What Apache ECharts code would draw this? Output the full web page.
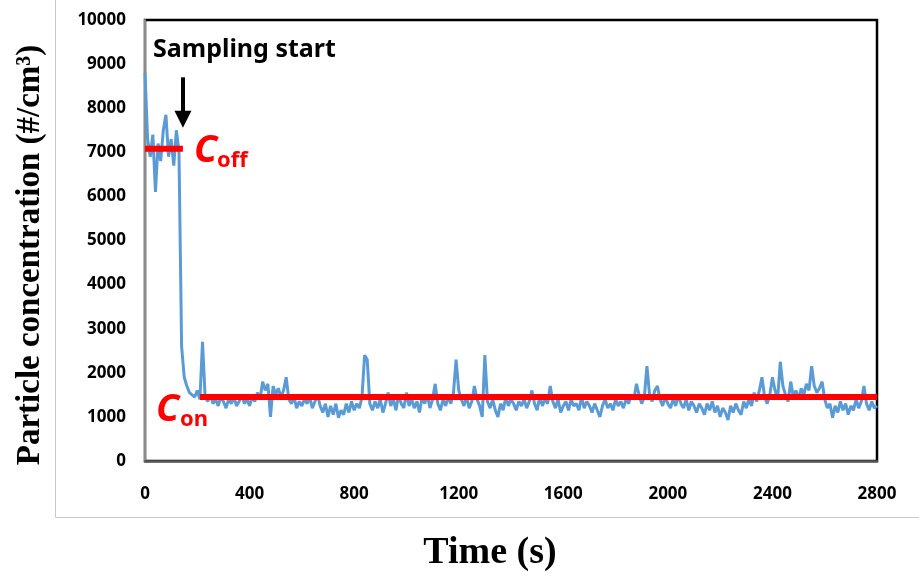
<!DOCTYPE html>
<html>
<head>
<meta charset="utf-8">
<title>Particle concentration</title>
<script src="https://cdn.jsdelivr.net/npm/echarts@6/dist/echarts.min.js"></script>
<style>
  html, body { margin: 0; padding: 0; background: #fff; }
  #chart { width: 919px; height: 578px; }
</style>
</head>
<body>
<div id="chart"></div>
<script>
// sampling step of the trace (s)
const timeStep = 10
// particle concentration read every 10 s, from 0 to 2800 s
const concentration = [
  8800, 7300, 6900, 7400, 6100, 7200, 6800, 7500, 7850, 6900, // 0
  7300, 6700, 7500, 7000, 2600, 1900, 1700, 1550, 1500, 1450, // 100
  1600, 1400, 2700, 1450, 1350, 1500, 1300, 1400, 1250, 1450, // 200
  1350, 1200, 1400, 1300, 1450, 1250, 1350, 1500, 1300, 1400, // 300
  1250, 1450, 1350, 1550, 1400, 1800, 1600, 1750, 1000, 1700, // 400
  1500, 1650, 1450, 1600, 1900, 1400, 1300, 1450, 1200, 1350, // 500
  1250, 1400, 1300, 1450, 1200, 1350, 1500, 1250, 1100, 1300, // 600
  1000, 1250, 1050, 1300, 980, 1150, 1050, 1300, 1100, 1350, // 700
  1150, 1300, 1200, 1450, 2400, 2300, 1300, 1150, 1350, 1200, // 800
  1400, 1100, 1300, 1550, 1250, 1400, 1150, 1500, 1300, 1200, // 900
  1550, 1250, 1400, 1200, 1350, 1100, 1450, 1300, 1500, 1200, // 1000
  1400, 1750, 1300, 1150, 1400, 1250, 1450, 1300, 1550, 2300, // 1100
  1600, 1400, 1250, 1450, 1200, 1350, 1700, 1400, 1250, 1000, // 1200
  2400, 1350, 1200, 1400, 1150, 1000, 1300, 1150, 1450, 1250, // 1300
  1400, 1300, 1150, 1350, 1250, 1400, 1200, 1350, 1600, 1300, // 1400
  1150, 1450, 1250, 1400, 1300, 1700, 1350, 1200, 1400, 1100, // 1500
  1250, 1350, 1150, 1400, 1250, 1300, 1150, 1450, 1200, 1350, // 1600
  1250, 1100, 1300, 1150, 1000, 1250, 1400, 1200, 1300, 1150, // 1700
  1400, 1250, 1350, 1200, 1400, 1300, 1500, 1400, 1750, 1500, // 1800
  1300, 1450, 2150, 1500, 1350, 1600, 1700, 1400, 1250, 1450, // 1900
  1300, 1200, 1400, 1250, 1500, 1300, 1200, 1400, 1150, 1350, // 2000
  1250, 1100, 1300, 1200, 1050, 1300, 1150, 1350, 1100, 1250, // 2100
  1000, 1200, 1100, 930, 1250, 1100, 1300, 1150, 1050, 1350, // 2200
  1200, 1400, 1250, 1550, 1350, 1600, 1900, 1450, 1300, 1500, // 2300
  1900, 1600, 1400, 2250, 1700, 1500, 1350, 1800, 1450, 1600, // 2400
  1400, 1650, 1500, 1750, 1600, 2150, 1700, 1550, 1650, 1800, // 2500
  1400, 1200, 1300, 980, 1250, 1100, 1350, 1150, 1300, 1050, // 2600
  1250, 1150, 1400, 1200, 1350, 1700, 1300, 1150, 1350, 1200, // 2700
  1250 // 2800
]

// mean levels before (off) and after (on) sampling start
const coffLevel = 7080
const coffRange = [0, 145]
const conLevel = 1450
const conRange = [210, 2800]
// arrow marking sampling start: time, from value, to value
const arrowTime = 145
const arrowFrom = 8700
const arrowTo = 7750

const xTicks = { min: 0, max: 2800, interval: 400 }
const yTicks = { min: 0, max: 10000, interval: 1000 }

const chart = echarts.init(document.getElementById('chart'))

const trace = concentration.map((v, i) => [i * timeStep, v])

const tickFont = {
  fontFamily: 'Noto Sans',
  fontWeight: 'bold',
  fontSize: 17,
  color: '#000',
  formatter: v => String(v)
}

chart.setOption({
  animation: false,
  backgroundColor: '#fff',
  grid: {
    left: 145,
    right: 42,
    top: 20,
    bottom: 117,
    show: true,
    borderColor: '#000',
    borderWidth: 2.5
  },
  xAxis: {
    type: 'value',
    min: xTicks.min,
    max: xTicks.max,
    interval: xTicks.interval,
    axisLine: { lineStyle: { color: '#595959', width: 2.5 } },
    axisTick: { show: false },
    splitLine: { show: false },
    axisLabel: Object.assign({ margin: 25 }, tickFont)
  },
  yAxis: {
    type: 'value',
    min: yTicks.min,
    max: yTicks.max,
    interval: yTicks.interval,
    axisLine: { show: true, lineStyle: { color: '#8c8c8c', width: 2 } },
    axisTick: { show: false },
    splitLine: { show: false },
    axisLabel: Object.assign({ margin: 19 }, tickFont)
  },
  series: [
    {
      name: 'concentration',
      type: 'line',
      data: trace,
      showSymbol: false,
      lineStyle: { color: '#5b9bd5', width: 3 },
      z: 2
    },
    {
      name: 'Coff',
      type: 'line',
      data: [[coffRange[0], coffLevel], [coffRange[1], coffLevel]],
      showSymbol: false,
      lineStyle: { color: '#ff0000', width: 6 },
      z: 3,
      // arrow for sampling start
      markLine: {
        silent: true,
        symbol: ['none', 'triangle'],
        symbolSize: [17, 17],
        symbolRotate: 180,
        label: { show: false },
        lineStyle: { color: '#000', width: 4, type: 'solid' },
        data: [[
          { coord: [arrowTime, arrowFrom] },
          { coord: [arrowTime, arrowTo] }
        ]]
      }
    },
    {
      name: 'Con',
      type: 'line',
      data: [[conRange[0], conLevel], [conRange[1], conLevel]],
      showSymbol: false,
      lineStyle: { color: '#ff0000', width: 6 },
      z: 3
    }
  ],
  graphic: [
    // outer frame of the figure
    {
      type: 'rect',
      shape: { x: 55.5, y: -2, width: 870, height: 519.5 },
      style: { fill: 'none', stroke: '#c8c8c8', lineWidth: 1 },
      silent: true
    },
    {
      type: 'text',
      x: 30,
      y: 255,
      rotation: Math.PI / 2,
      style: {
        text: 'Particle concentration (#/cm³)',
        fontFamily: 'Liberation Serif',
        fontWeight: 'bold',
        fontSize: 33,
        fill: '#000',
        align: 'center',
        verticalAlign: 'middle'
      }
    },
    {
      type: 'text',
      x: 490,
      y: 553,
      style: {
        text: 'Time (s)',
        fontFamily: 'Liberation Serif',
        fontWeight: 'bold',
        fontSize: 38,
        fill: '#000',
        align: 'center',
        verticalAlign: 'middle'
      }
    },
    {
      type: 'text',
      x: 153,
      y: 50,
      style: {
        text: 'Sampling start',
        fontFamily: 'Noto Sans',
        fontWeight: 'bold',
        fontSize: 25,
        fill: '#000',
        align: 'left',
        verticalAlign: 'middle'
      }
    },
    // C_off label
    {
      type: 'text',
      x: 194,
      y: 151,
      style: {
        text: 'C',
        fontFamily: 'Noto Sans',
        fontStyle: 'italic',
        fontWeight: 'bold',
        fontSize: 38,
        fill: '#ff0000',
        align: 'left',
        verticalAlign: 'middle'
      }
    },
    {
      type: 'text',
      x: 217,
      y: 161,
      style: {
        text: 'off',
        fontFamily: 'Noto Sans',
        fontWeight: 'bold',
        fontSize: 22,
        fill: '#ff0000',
        align: 'left',
        verticalAlign: 'middle'
      }
    },
    // C_on label
    {
      type: 'text',
      x: 156,
      y: 410,
      style: {
        text: 'C',
        fontFamily: 'Noto Sans',
        fontStyle: 'italic',
        fontWeight: 'bold',
        fontSize: 38,
        fill: '#ff0000',
        align: 'left',
        verticalAlign: 'middle'
      }
    },
    {
      type: 'text',
      x: 180,
      y: 420,
      style: {
        text: 'on',
        fontFamily: 'Noto Sans',
        fontWeight: 'bold',
        fontSize: 22,
        fill: '#ff0000',
        align: 'left',
        verticalAlign: 'middle'
      }
    }
  ]
})
</script>
</body>
</html>
